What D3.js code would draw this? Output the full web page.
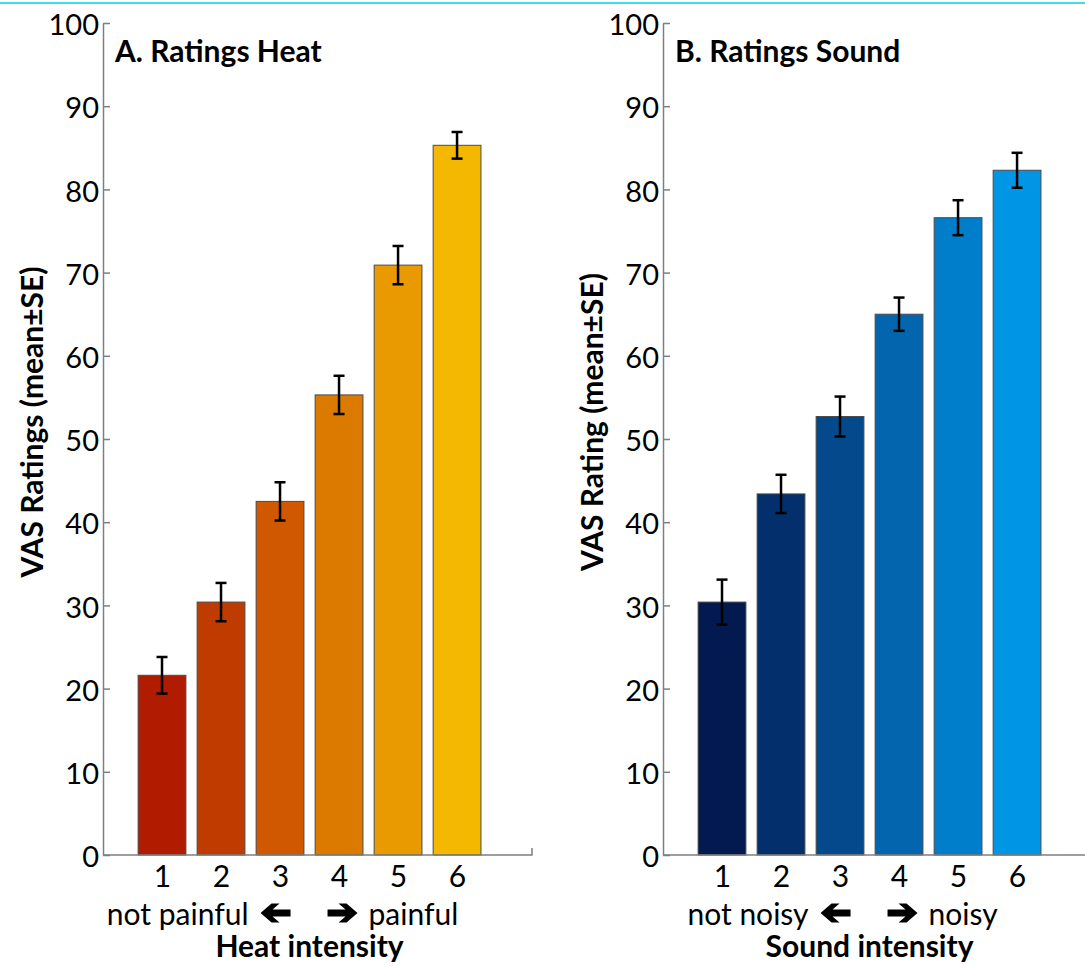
<!DOCTYPE html>
<html>
<head>
<meta charset="utf-8">
<script src="https://cdn.jsdelivr.net/npm/d3@7/dist/d3.min.js"></script>
<style>
  body { margin: 0; background: #fff; }
  svg { display: block; font-family: Lato, "Open Sans", sans-serif; }
</style>
</head>
<body>
<div id="chart-area"></div>
<script>
// Data
var intensities = [1, 2, 3, 4, 5, 6];
var yTicks = [0, 10, 20, 30, 40, 50, 60, 70, 80, 90, 100];

var heatMeans = [21.6, 30.4, 42.5, 55.3, 70.9, 85.3];
var heatSE    = [2.2, 2.3, 2.3, 2.3, 2.3, 1.6];
var heatColors = ["#b11b00", "#c03b00", "#cf5800", "#dc7a00", "#e89a00", "#f5b800"];

var soundMeans = [30.4, 43.4, 52.7, 65.0, 76.6, 82.3];
var soundSE    = [2.7, 2.3, 2.4, 2.0, 2.1, 2.1];
var soundColors = ["#021a50", "#032f6c", "#03498b", "#0265ad", "#007ecb", "#0096e5"];

var panels = [
    { left: 103, title: "A. Ratings Heat", yLabel: "VAS Ratings (mean\u00b1SE)",
      lowText: "not painful", highText: "painful", xLabel: "Heat intensity",
      means: heatMeans, se: heatSE, colors: heatColors },
    { left: 663, title: "B. Ratings Sound", yLabel: "VAS Rating (mean\u00b1SE)",
      lowText: "not noisy", highText: "noisy", xLabel: "Sound intensity",
      means: soundMeans, se: soundSE, colors: soundColors }
];

var W = 1085, H = 968;
var plotTop = 23, plotBottom = 855;
var axisLen = 429;

var svg = d3.select("#chart-area")
    .append("svg")
        .attr("width", W)
        .attr("height", H);

// thin cyan rule across the top
svg.append("rect")
    .attr("x", 0).attr("y", 2)
    .attr("width", W).attr("height", 2)
    .attr("fill", "#3fdfe0");

// arrow shape pointing right, centred on 0,0
var arrowPath = "M-15,-3.5L3,-3.5L-4,-9.5L4,-9.5L15,0L4,9.5L-4,9.5L3,3.5L-15,3.5Z";

panels.forEach(function(p){
    var g = svg.append("g")
        .attr("transform", "translate(" + p.left + ",0)");

    var x = d3.scaleLinear()
        .domain([0, 7.27])
        .range([0, axisLen]);

    var y = d3.scaleLinear()
        .domain([0, 100])
        .range([plotBottom, plotTop]);

    var bw = x(0.81) - x(0);

    // Bars
    g.selectAll("rect.bar")
        .data(p.means)
        .enter().append("rect")
            .attr("class", "bar")
            .attr("x", function(d, i){ return x(intensities[i]) - bw / 2; })
            .attr("y", function(d){ return y(d); })
            .attr("width", bw)
            .attr("height", function(d){ return y(0) - y(d); })
            .attr("fill", function(d, i){ return p.colors[i]; })
            .attr("stroke", "#4a4a4a")
            .attr("stroke-width", 1);

    // Error bars
    var capW = 11;
    var err = g.selectAll("g.err")
        .data(p.means)
        .enter().append("g")
            .attr("class", "err")
            .attr("stroke", "#000")
            .attr("stroke-width", 2.5);
    err.append("line")
        .attr("x1", function(d, i){ return x(intensities[i]); })
        .attr("x2", function(d, i){ return x(intensities[i]); })
        .attr("y1", function(d, i){ return y(d + p.se[i]); })
        .attr("y2", function(d, i){ return y(d - p.se[i]); });
    err.append("line")
        .attr("x1", function(d, i){ return x(intensities[i]) - capW / 2; })
        .attr("x2", function(d, i){ return x(intensities[i]) + capW / 2; })
        .attr("y1", function(d, i){ return y(d + p.se[i]); })
        .attr("y2", function(d, i){ return y(d + p.se[i]); });
    err.append("line")
        .attr("x1", function(d, i){ return x(intensities[i]) - capW / 2; })
        .attr("x2", function(d, i){ return x(intensities[i]) + capW / 2; })
        .attr("y1", function(d, i){ return y(d - p.se[i]); })
        .attr("y2", function(d, i){ return y(d - p.se[i]); });

    // Y axis, ticks pointing inward
    var yAxis = g.append("g")
        .attr("class", "y axis")
        .call(d3.axisLeft(y)
            .tickValues(yTicks)
            .tickSize(-7)
            .tickSizeOuter(0)
            .tickPadding(4));
    yAxis.selectAll("path, line")
        .attr("stroke", "#7f7f7f")
        .attr("stroke-width", 1.5);
    yAxis.selectAll("text")
        .attr("font-size", "29px")
        .attr("font-family", "Lato, sans-serif")
        .attr("fill", "#000")
        .attr("dy", "0.4em");

    // X axis
    var xAxis = g.append("g")
        .attr("class", "x axis")
        .attr("transform", "translate(0," + plotBottom + ")")
        .call(d3.axisBottom(x)
            .tickValues(intensities)
            .tickSize(0)
            .tickSizeOuter(0)
            .tickPadding(11));
    xAxis.select(".domain")
        .attr("d", "M0,0H" + axisLen + "V-7")
        .attr("stroke", "#7f7f7f")
        .attr("stroke-width", 1.5)
        .attr("fill", "none");
    xAxis.selectAll("text")
        .attr("font-size", "30px")
        .attr("font-family", "Lato, sans-serif")
        .attr("fill", "#000");

    // Title
    g.append("text")
        .attr("x", 12)
        .attr("y", 62)
        .attr("font-size", "30px")
        .attr("font-weight", "bold")
        .text(p.title);

    // Y label
    g.append("text")
        .attr("transform", "translate(-72,422) rotate(-90)")
        .attr("text-anchor", "middle")
        .attr("dominant-baseline", "central")
        .attr("font-size", "30px")
        .attr("font-weight", "bold")
        .text(p.yLabel);

    // Direction hint under the ticks
    var cx = x(3.5);
    var arrowY = 913;
    g.append("path")
        .attr("d", arrowPath)
        .attr("transform", "translate(" + (cx - 34) + "," + arrowY + ") scale(-1,1)")
        .attr("fill", "#000");
    g.append("path")
        .attr("d", arrowPath)
        .attr("transform", "translate(" + (cx + 33) + "," + arrowY + ")")
        .attr("fill", "#000");
    g.append("text")
        .attr("x", cx - 34 - 27)
        .attr("y", 925)
        .attr("text-anchor", "end")
        .attr("font-size", "30px")
        .text(p.lowText);
    g.append("text")
        .attr("x", cx + 33 + 26)
        .attr("y", 925)
        .attr("font-size", "30px")
        .text(p.highText);

    // X label
    g.append("text")
        .attr("x", cx)
        .attr("y", 957)
        .attr("text-anchor", "middle")
        .attr("font-size", "30px")
        .attr("font-weight", "bold")
        .text(p.xLabel);
});
</script>
</body>
</html>
